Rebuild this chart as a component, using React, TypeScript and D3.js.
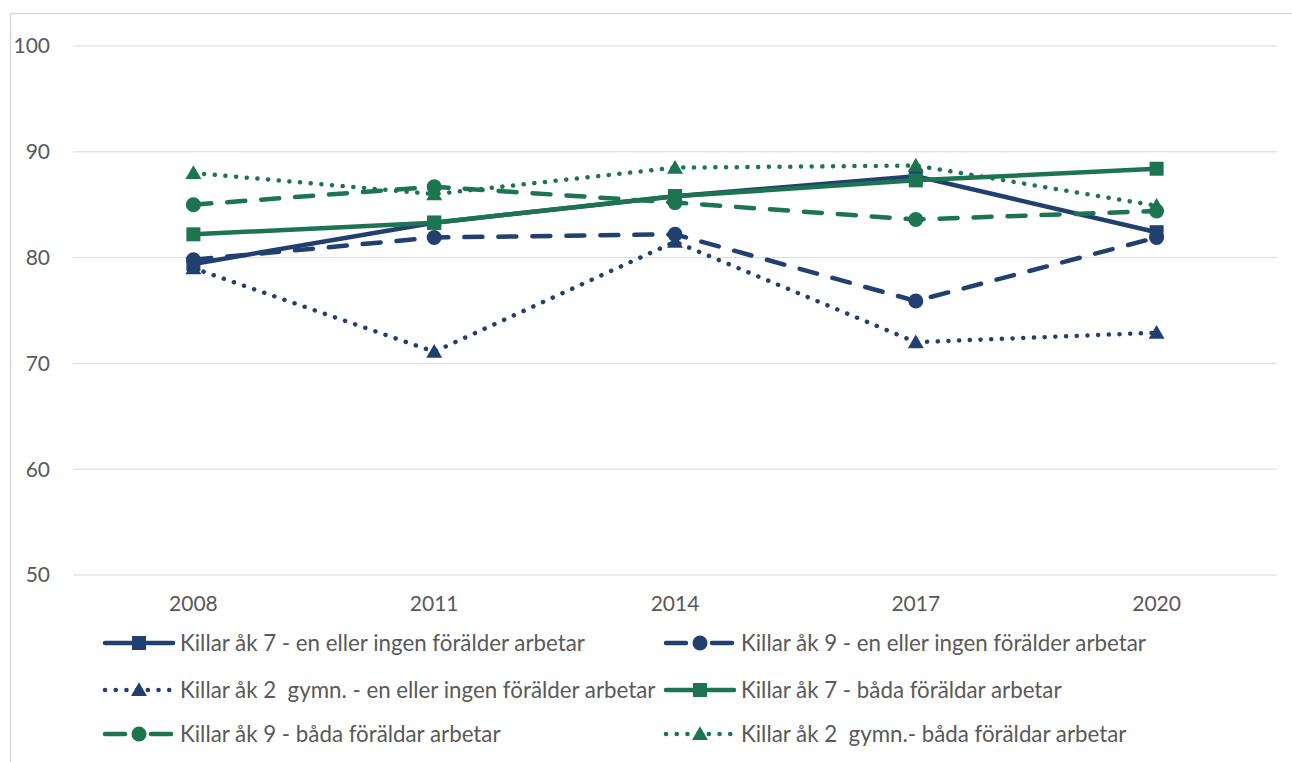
import React from "react";
import * as d3 from "d3";

const years = ["2008", "2011", "2014", "2017", "2020"];
const yTicks = [50, 60, 70, 80, 90, 100];

const s1 = [79.4, 83.3, 85.8, 87.7, 82.4];
const s2 = [79.8, 81.9, 82.2, 75.9, 81.9];
const s3 = [79.0, 71.1, 81.5, 72.0, 72.9];
const s4 = [82.2, 83.3, 85.8, 87.3, 88.4];
const s5 = [85.0, 86.7, 85.2, 83.6, 84.4];
const s6 = [88.0, 86.0, 88.5, 88.7, 84.9];

const names = [
  "Killar åk 7 - en eller ingen förälder arbetar",
  "Killar åk 9 - en eller ingen förälder arbetar",
  "Killar åk 2  gymn. - en eller ingen förälder arbetar",
  "Killar åk 7 - båda föräldar arbetar",
  "Killar åk 9 - båda föräldar arbetar",
  "Killar åk 2  gymn.- båda föräldar arbetar",
];

const NAVY = "#22406f";
const GREEN = "#1c7450";

type Style = "solid" | "dash" | "dot";
type Marker = "square" | "circle" | "triangle";

const series: { name: string; values: number[]; color: string; style: Style; marker: Marker }[] = [
  { name: names[0], values: s1, color: NAVY, style: "solid", marker: "square" },
  { name: names[1], values: s2, color: NAVY, style: "dash", marker: "circle" },
  { name: names[2], values: s3, color: NAVY, style: "dot", marker: "triangle" },
  { name: names[3], values: s4, color: GREEN, style: "solid", marker: "square" },
  { name: names[4], values: s5, color: GREEN, style: "dash", marker: "circle" },
  { name: names[5], values: s6, color: GREEN, style: "dot", marker: "triangle" },
];

const dashFor = (s: Style) => (s === "solid" ? undefined : s === "dash" ? "18 16" : "0.1 10.6");

function MarkerShape({ m, x, y, color }: { m: Marker; x: number; y: number; color: string }) {
  if (m === "square") return <rect x={x - 7} y={y - 7} width={14} height={14} fill={color} />;
  if (m === "circle") return <circle cx={x} cy={y} r={7.5} fill={color} />;
  const sym = d3.symbol(d3.symbolTriangle, 110)();
  return <path d={sym || ""} transform={`translate(${x},${y + 1.5})`} fill={color} />;
}

export default function App() {
  const left = 73, right = 1277, top = 46, bottom = 575;
  const x = d3.scalePoint<string>().domain(years).range([left, right]).padding(0.5);
  const y = d3.scaleLinear().domain([50, 100]).range([bottom, top]);
  const line = d3
    .line<number>()
    .x((_, i) => x(years[i]) as number)
    .y((v) => y(v));

  const font = "Lato, 'Open Sans', sans-serif";
  const legendPos = [
    { lx: 103, ly: 643 },
    { lx: 664, ly: 643 },
    { lx: 103, ly: 690 },
    { lx: 664, ly: 690 },
    { lx: 103, ly: 734 },
    { lx: 664, ly: 734 },
  ];

  return (
    <svg
      width={1292}
      height={762}
      style={{ position: "absolute", left: 0, top: 0, background: "#fff" }}
      fontFamily={font}
    >
      <rect x={10.5} y={13.5} width={1400} height={900} fill="#fff" stroke="#d9d9d9" strokeWidth={1.5} />
      {yTicks.map((t) => (
        <g key={t}>
          <line x1={left} x2={right} y1={y(t)} y2={y(t)} stroke="#d9d9d9" strokeWidth={1} />
          <text x={50} y={y(t)} dy="0.35em" textAnchor="end" fontSize={21} fill="#595959">
            {t}
          </text>
        </g>
      ))}
      {years.map((yr) => (
        <text key={yr} x={x(yr)} y={604} dy="0.35em" textAnchor="middle" fontSize={21} fill="#595959">
          {yr}
        </text>
      ))}
      {series.map((s, i) => (
        <g key={i}>
          <path
            d={line(s.values) || ""}
            fill="none"
            stroke={s.color}
            strokeWidth={4.5}
            strokeDasharray={dashFor(s.style)}
            strokeLinecap="round"
            strokeLinejoin="round"
          />
          {s.values.map((v, j) => (
            <MarkerShape key={j} m={s.marker} x={x(years[j]) as number} y={y(v)} color={s.color} />
          ))}
        </g>
      ))}
      {series.map((s, i) => {
        const { lx, ly } = legendPos[i];
        return (
          <g key={"l" + i}>
            <line
              x1={lx + 2}
              x2={lx + 70}
              y1={ly}
              y2={ly}
              stroke={s.color}
              strokeWidth={4.5}
              strokeDasharray={s.style === "solid" ? undefined : s.style === "dash" ? "20 26" : "0.1 10.6"}
              strokeLinecap="round"
            />
            <MarkerShape m={s.marker} x={lx + 36} y={ly} color={s.color} />
            <text
              x={lx + 77}
              y={ly}
              dy="0.35em"
              fontSize={22.3}
              fill="#595959"
              style={{ whiteSpace: "pre" }}
            >
              {s.name}
            </text>
          </g>
        );
      })}
    </svg>
  );
}
